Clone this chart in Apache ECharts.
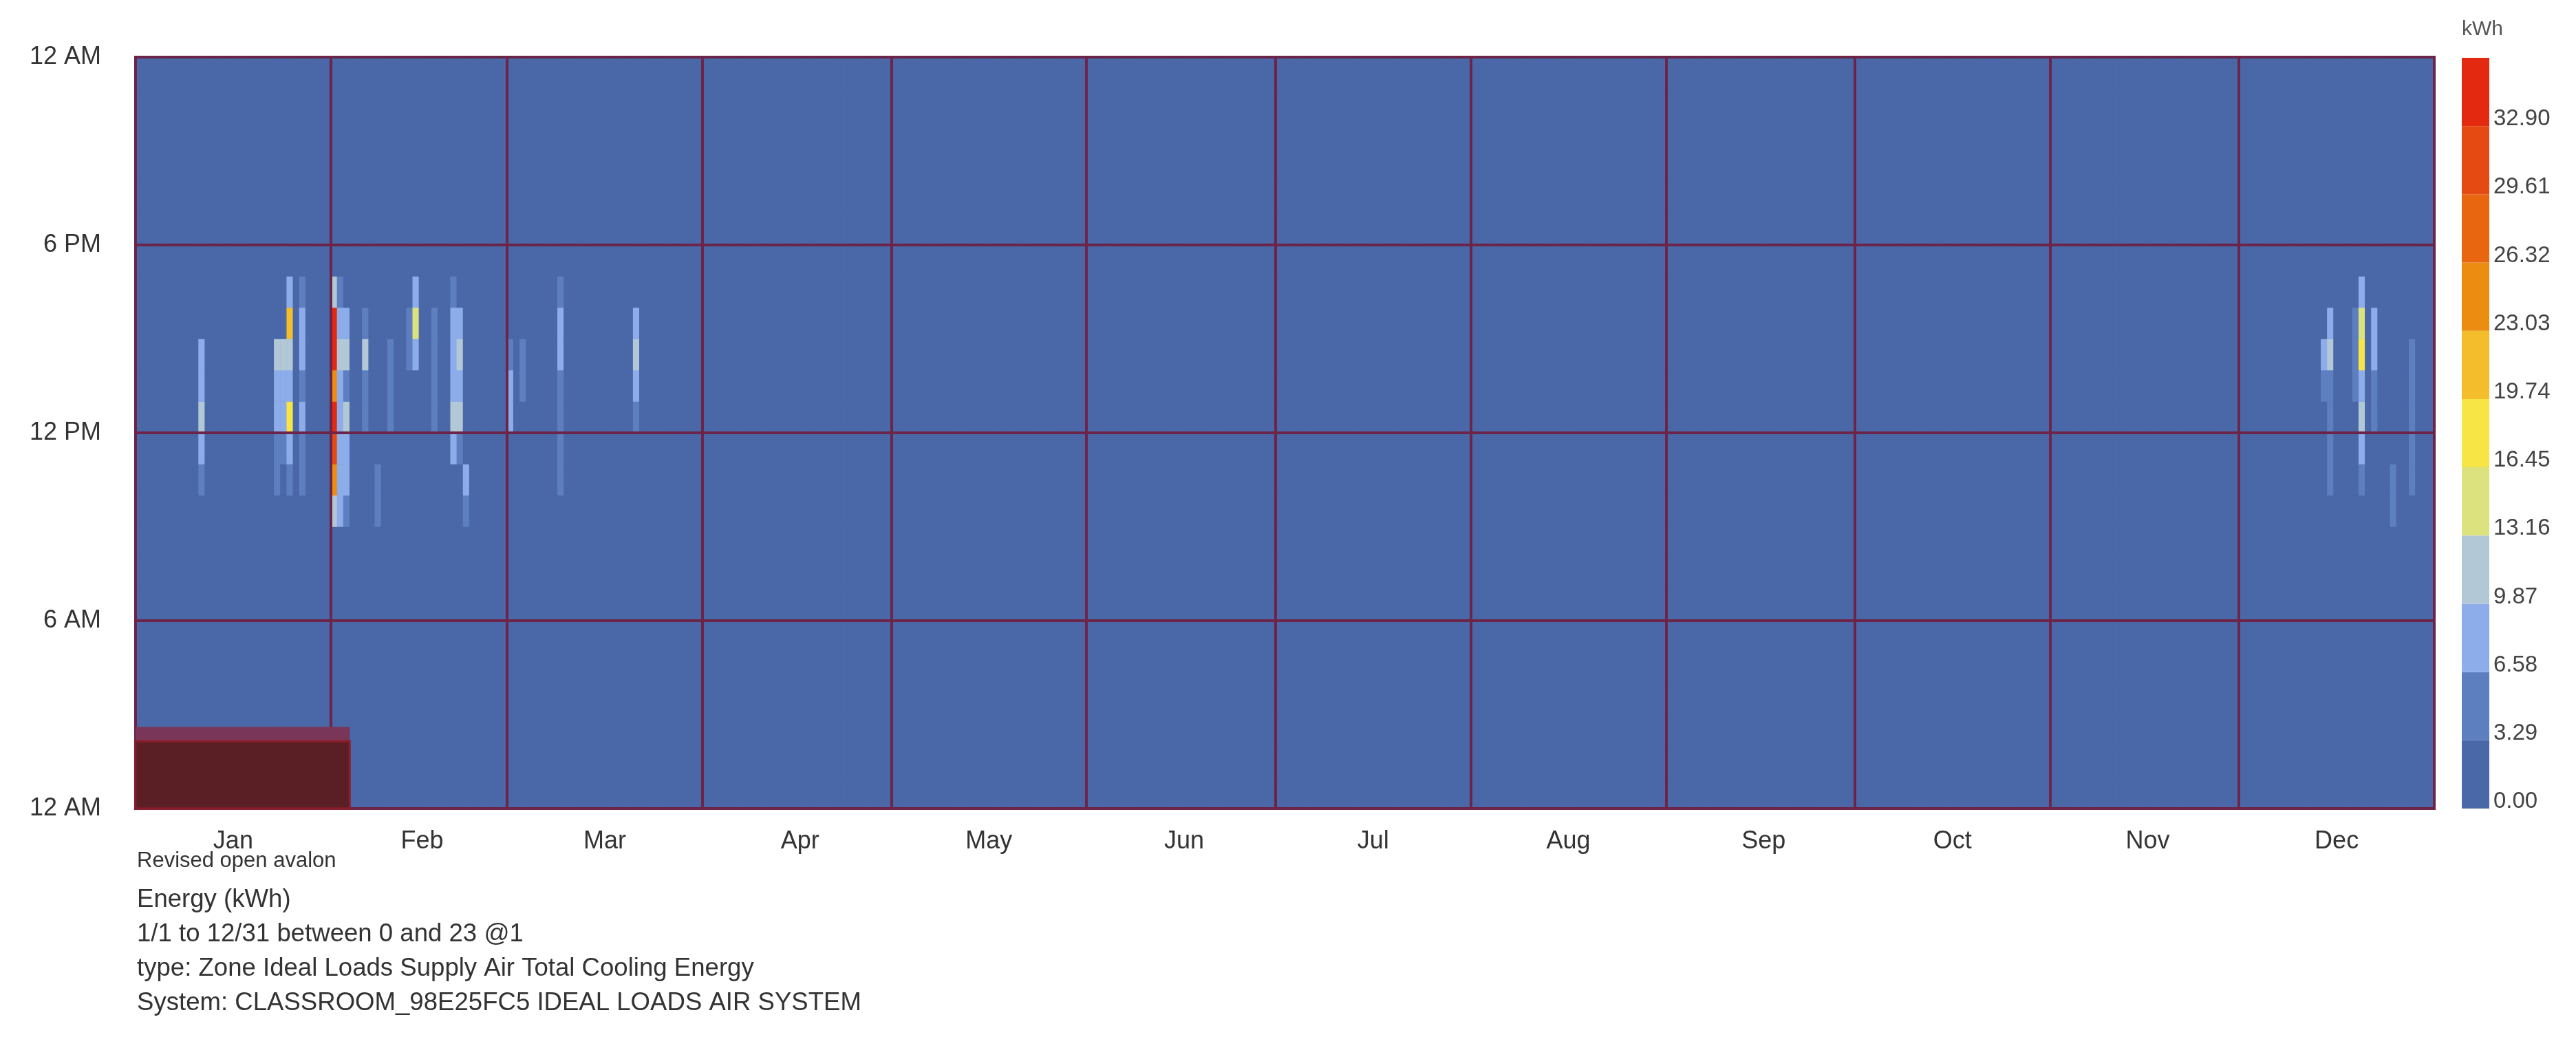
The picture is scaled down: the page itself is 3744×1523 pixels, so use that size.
<!DOCTYPE html>
<html>
<head>
<meta charset="utf-8">
<script src="https://cdn.jsdelivr.net/npm/echarts@6/dist/echarts.min.js"></script>
<style>html,body{margin:0;padding:0;background:#fff}#chart{width:3744px;height:1523px}</style>
</head>
<body>
<div id="chart"></div>
<script>
// ---------- data ----------
const monthNames = ['Jan','Feb','Mar','Apr','May','Jun','Jul','Aug','Sep','Oct','Nov','Dec'];
const monthDays  = [31,28,31,30,31,30,31,31,30,31,30,31];
const hourTickLabels = ['12 AM','6 AM','12 PM','6 PM','12 AM'];
const binEdges = [0, 3.29, 6.58, 9.87, 13.16, 16.45, 19.74, 23.03, 26.32, 29.61, 32.90, 36.19];
const binColors = ['#4a67a8','#5d7fc0','#8cacea','#b3c8d6','#dce27e','#f6e545',
                   '#f3bd2c','#ec8c10','#e8660f','#e44a12','#e3290f'];
const infoLines = [
  'Energy (kWh)',
  '1/1 to 12/31 between 0 and 23 @1',
  'type: Zone Ideal Loads Supply Air Total Cooling Energy',
  'System: CLASSROOM_98E25FC5 IDEAL LOADS AIR SYSTEM'
];
const caption = 'Revised open avalon';
const unitLabel = 'kWh';

// [day of year (0 = Jan 1), hour of day, kWh]; every other hour is 0
const janReadings = [
  [10,14,8],[10,13,9.5],[10,12,11],[10,11,8],[10,10,4.5],
  [22,14,10],[22,13,8],[22,12,7],[22,11,5],[22,10,4],
  [23,14,10.5],[23,13,8],[23,12,8],[23,11,4],
  [24,16,8],[24,15,21],[24,14,11],[24,13,9],[24,12,17.5],[24,11,8],[24,10,6],
  [26,16,5],[26,15,8.5],[26,14,8.5],[26,13,6.5],[26,12,7],[26,11,5],[26,10,3.5]
];
const febReadings = [
  [31,16,12],[31,15,34],[31,14,34.5],[31,13,24.5],[31,12,34],[31,11,31],[31,10,23.5],[31,9,11],
  [32,16,5.5],[32,15,8],[32,14,12],[32,13,8],[32,12,9],[32,11,8],[32,10,8],[32,9,7],
  [33,15,7],[33,14,11],[33,13,5],[33,12,10],[33,11,7],[33,10,8],[33,9,6],
  [36,15,4],[36,14,10],[36,13,6],[36,12,5],
  [38,10,4],[38,9,4],
  [40,14,3.6],[40,13,3.6],[40,12,3.6],
  [43,15,4],[43,14,5],
  [44,16,8],[44,15,14],[44,14,7],
  [47,15,5],[47,14,5],[47,13,5],[47,12,5],
  [50,16,5],[50,15,8],[50,14,9],[50,13,8],[50,12,11],[50,11,7],
  [51,15,7],[51,14,10],[51,13,8],[51,12,11],[51,11,5],
  [52,10,7],[52,9,4]
];
const marReadings = [
  [59,14,5],[59,13,7],[59,12,7],
  [61,14,6],[61,13,6],
  [67,16,4],[67,15,7.5],[67,14,7.5],[67,13,5.5],[67,12,5.5],[67,11,6],[67,10,3.5],
  [79,15,8],[79,14,10.5],[79,13,7.5],[79,12,6]
];
const decReadings = [
  [347,14,8],[347,13,5],
  [348,15,7],[348,14,10],[348,13,6],[348,12,5],[348,11,4],[348,10,3.5],
  [352,15,3.5],[352,14,3.5],[352,13,3.5],
  [353,16,8],[353,15,15],[353,14,18],[353,13,8],[353,12,10],[353,11,7],[353,10,5],
  [355,15,8.5],[355,14,8.5],[355,13,5],[355,12,3.5],
  [358,10,6],[358,9,5],
  [361,14,5],[361,13,5],[361,12,4],[361,11,6],[361,10,6]
];
// dark overlay block seen in the lower-left corner: day range and hour extents
const overlayDays = [0, 34];
const overlayHours = [2.15, 2.61];

// ---------- build ----------
const FONT = "'Liberation Sans', Arial, Helvetica, sans-serif";
const TXT = '#333333';
const LINE = '#6c2549';

const monthStart = [];
let acc = 0;
monthDays.forEach(n => { monthStart.push(acc); acc += n; });
const nDays = acc;
const labelIdx = monthStart.map((s, i) => s + Math.floor(monthDays[i] / 2));
const days = Array.from({length: nDays}, (_, i) => i);
const hours = Array.from({length: 24}, (_, i) => i);

const readings = [...janReadings, ...febReadings, ...marReadings, ...decReadings];
const lookup = new Map(readings.map(([d, h, v]) => [d * 24 + h, v]));
const cells = [];
for (let d = 0; d < nDays; d++) {
  for (let h = 0; h < 24; h++) cells.push([d, h, lookup.get(d * 24 + h) || 0]);
}

const pieces = binColors.map((c, i) => i < binColors.length - 1
  ? {gte: binEdges[i], lt: binEdges[i + 1], color: c}
  : {gte: binEdges[i], lte: binEdges[i + 1], color: c});

const colorbarSeries = binColors.map((c, i) => ({
  type: 'bar', xAxisIndex: 2, yAxisIndex: 2, stack: 'scale',
  data: [binEdges[i + 1] - binEdges[i]], barWidth: '100%',
  itemStyle: {color: c}, silent: true, animation: false
}));

const graphics = [
  {type: 'text', left: 3578, top: 28, style: {text: unitLabel, fontSize: 30, fontFamily: FONT, fill: '#555'}},
  {type: 'text', left: 199, top: 1236, style: {text: caption, fontSize: 31, fontFamily: FONT, fill: TXT}}
];
infoLines.forEach((t, i) => graphics.push({
  type: 'text', left: 199, top: 1289 + i * 50,
  style: {text: t, fontSize: 36.6, fontFamily: FONT, fill: TXT}
}));

const chart = echarts.init(document.getElementById('chart'), null, {renderer: 'canvas'});
chart.setOption({
  animation: false,
  backgroundColor: '#ffffff',
  textStyle: {fontFamily: FONT},
  grid: [
    {left: 197, right: 206, top: 83, bottom: 348, show: true, z: 10,
     backgroundColor: 'transparent', borderColor: LINE, borderWidth: 4},
    {left: 3578, width: 40, top: 84, height: 1091}
  ],
  visualMap: {type: 'piecewise', show: false, dimension: 2, seriesIndex: 0, pieces: pieces},
  xAxis: [
    {type: 'category', gridIndex: 0, data: days, boundaryGap: true, z: 5,
     axisLine: {show: false}, axisTick: {show: false},
     axisLabel: {interval: (i) => labelIdx.includes(i),
                 formatter: (v) => monthNames[labelIdx.indexOf(Number(v))] || '',
                 fontSize: 36, color: TXT, margin: 30, fontFamily: FONT},
     splitLine: {show: true, interval: (i) => monthStart.includes(i),
                 lineStyle: {color: LINE, width: 4}}},
    {type: 'value', gridIndex: 0, min: 0, max: nDays, show: false},
    {type: 'category', gridIndex: 1, data: [unitLabel], show: false}
  ],
  yAxis: [
    {type: 'category', gridIndex: 0, data: hours, show: false},
    {type: 'value', gridIndex: 0, min: 0, max: 24, interval: 6, position: 'left', z: 5,
     axisLine: {show: false}, axisTick: {show: false},
     axisLabel: {formatter: (v) => hourTickLabels[Math.round(v / 6)], fontSize: 36, color: TXT,
                 margin: 50, fontFamily: FONT},
     splitLine: {show: true, lineStyle: {color: LINE, width: 4}}},
    {type: 'value', gridIndex: 1, min: 0, max: binEdges[binEdges.length - 1], interval: binEdges[1],
     position: 'right', axisLine: {show: false}, axisTick: {show: false}, splitLine: {show: false},
     axisLabel: {formatter: (v) => v.toFixed(2), fontSize: 33, color: '#444', margin: 6,
                 showMaxLabel: false, verticalAlign: 'bottom', lineHeight: 20, fontFamily: FONT}}
  ],
  series: [
    {type: 'heatmap', xAxisIndex: 0, yAxisIndex: 0, data: cells, progressive: 0, z: 2,
     emphasis: {disabled: true}},
    {type: 'line', xAxisIndex: 1, yAxisIndex: 1, data: [], z: 1, silent: true,
     markArea: {silent: true, data: [
       [{xAxis: 0, yAxis: 0, itemStyle: {color: binColors[0]}}, {xAxis: nDays, yAxis: 24}]
     ]}},
    {type: 'line', xAxisIndex: 1, yAxisIndex: 1, data: [], z: 20, silent: true,
     markArea: {silent: true, z: 20, data: [
       [{xAxis: overlayDays[0], yAxis: 0, itemStyle: {color: '#7a3658'}},
        {xAxis: overlayDays[1], yAxis: overlayHours[1]}],
       [{xAxis: overlayDays[0], yAxis: 0, itemStyle: {color: '#5a1e25', borderColor: '#8e1c28', borderWidth: 3}},
        {xAxis: overlayDays[1], yAxis: overlayHours[0]}]
     ]}},
    ...colorbarSeries
  ],
  graphic: graphics
});
</script>
</body>
</html>
